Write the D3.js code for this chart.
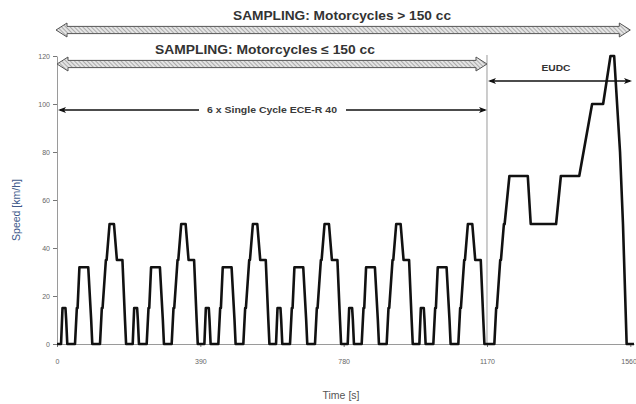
<!DOCTYPE html>
<html><head><meta charset="utf-8">
<script src="https://cdn.jsdelivr.net/npm/d3@7"></script>
<style>html,body{margin:0;padding:0;background:#fff;}svg{display:block;font-family:"Liberation Sans",Arial,sans-serif;}</style>
</head><body>
<svg id="c" width="636" height="404"></svg>
<script>
// ---- data ----
const eceCycleTimes  = [0,11,15,23,25,28,49,54,56,61,85,93,96,117,122,124,133,135,143,155,163,176,178,185,188,195];
const eceCycleSpeeds = [0,0,15,15,10,0,0,15,15,32,32,10,0,0,15,15,35,35,50,50,35,35,35,10,0,0];
const cycleStarts    = [0,195,390,585,780,975];
const eudcTimes  = [1170,1190,1195,1197,1206,1208,1216,1218,1231,1281,1289,1358,1371,1421,1456,1486,1506,1516,1532,1540,1550,1570];
const eudcSpeeds = [0,0,15,15,35,35,50,50,70,70,50,50,70,70,100,100,120,120,80,50,0,0];
const xTicks = [0,390,780,1170,1560];
const yTicks = [0,20,40,60,80,100,120];
const eceEnd = 1170;

const svg = d3.select("#c");
const x = d3.scaleLinear().domain([0,1570]).range([57,634]);
const y = d3.scaleLinear().domain([0,120]).range([344,56]);

// build series
const pts = [];
cycleStarts.forEach(s => eceCycleTimes.forEach((t,i)=>pts.push([s+t, eceCycleSpeeds[i]])));
eudcTimes.forEach((t,i)=>pts.push([t, eudcSpeeds[i]]));

// hatch pattern
const defs = svg.append("defs");
const pat = defs.append("pattern").attr("id","hatch").attr("patternUnits","userSpaceOnUse")
  .attr("width",3).attr("height",3).attr("patternTransform","rotate(-45)");
pat.append("rect").attr("width",3).attr("height",3).attr("fill","#e4e4e4");
pat.append("line").attr("x1",0).attr("y1",0).attr("x2",0).attr("y2",3).attr("stroke","#8a8a8a").attr("stroke-width",1.3);

// axes
const axisCol = "#9a9a9a";
const yAxis = svg.append("g").attr("transform",`translate(${x(0)},0)`)
  .call(d3.axisLeft(y).tickValues(yTicks).tickFormat(d3.format("d")).tickSize(4).tickPadding(3).tickSizeOuter(0));
const xAxis = svg.append("g").attr("transform",`translate(0,${y(0)})`)
  .call(d3.axisBottom(x).tickValues(xTicks).tickFormat(d3.format("d")).tickSize(3).tickPadding(12).tickSizeOuter(0));
[yAxis,xAxis].forEach(g=>{
  g.select(".domain").attr("stroke",axisCol);
  g.selectAll(".tick line").attr("stroke","#777");
  g.selectAll(".tick text").attr("fill","#666").style("font-size","7px").style("font-family","'Liberation Sans',Arial,sans-serif");
});
// keep the last x label inside the picture
xAxis.selectAll(".tick text").filter(d=>d===xTicks[xTicks.length-1]).attr("text-anchor","end").attr("dx","6");

// vertical separator at end of ECE
svg.append("line").attr("x1",x(eceEnd)).attr("x2",x(eceEnd)).attr("y1",55).attr("y2",y(0))
  .attr("stroke",axisCol).attr("stroke-width",1);

// speed trace
svg.append("path").datum(pts)
  .attr("d", d3.line().x(d=>x(d[0])).y(d=>y(d[1])))
  .attr("fill","none").attr("stroke","#111").attr("stroke-width",2.6).attr("stroke-linejoin","round");

// block arrows
function blockArrow(x1,x2,cy){
  const bh=3.6, hh=7, hl=11;
  const p=[[x1,cy],[x1+hl,cy-hh],[x1+hl,cy-bh],[x2-hl,cy-bh],[x2-hl,cy-hh],[x2,cy],
           [x2-hl,cy+hh],[x2-hl,cy+bh],[x1+hl,cy+bh],[x1+hl,cy+hh]];
  svg.append("polygon").attr("points",p.map(d=>d.join(",")).join(" "))
    .attr("fill","url(#hatch)").attr("stroke","#555").attr("stroke-width",1);
}
function thinArrow(x1,x2,cy,gap){
  const hl=8, hw=3;
  if(gap){
    svg.append("line").attr("x1",x1+2).attr("x2",gap[0]).attr("y1",cy).attr("y2",cy).attr("stroke","#111").attr("stroke-width",1.3);
    svg.append("line").attr("x1",gap[1]).attr("x2",x2-2).attr("y1",cy).attr("y2",cy).attr("stroke","#111").attr("stroke-width",1.3);
  } else {
    svg.append("line").attr("x1",x1+2).attr("x2",x2-2).attr("y1",cy).attr("y2",cy).attr("stroke","#111").attr("stroke-width",1.3);
  }
  svg.append("polygon").attr("points",`${x1},${cy} ${x1+hl},${cy-hw} ${x1+hl-2},${cy} ${x1+hl},${cy+hw}`).attr("fill","#111");
  svg.append("polygon").attr("points",`${x2},${cy} ${x2-hl},${cy-hw} ${x2-hl+2},${cy} ${x2-hl},${cy+hw}`).attr("fill","#111");
}

blockArrow(x(0)-1, x(1560), 30);
blockArrow(x(0), x(eceEnd), 64);
thinArrow(x(0)+1, x(eceEnd), 110, [199, 346]);
thinArrow(x(eceEnd)+1, 632, 81);

// texts
function txt(s,cx,by,size,weight,fill,len){
  const t=svg.append("text").attr("x",cx).attr("y",by).attr("text-anchor","middle")
    .style("font-size",size+"px").style("font-weight",weight).attr("fill",fill).text(s);
  if(len) t.attr("textLength",len).attr("lengthAdjust","spacingAndGlyphs");
  return t;
}
txt("SAMPLING: Motorcycles > 150  cc", 342, 20, 12.5, "bold", "#333", 218);
txt("SAMPLING: Motorcycles \u2264 150  cc", 265, 54, 12.5, "bold", "#333", 220);
txt("6 x Single Cycle ECE-R 40", 272, 113, 8.5, "bold", "#3a3a3a", 130);
txt("EUDC", 556, 71, 8.5, "bold", "#333", 29);
txt("Time [s]", 341, 399, 10.5, "normal", "#555");
svg.append("text").attr("transform","translate(20,210) rotate(-90)").attr("text-anchor","middle")
  .style("font-size","10.5px").attr("fill","#40598a").text("Speed [km/h]");
</script>
</body></html>
